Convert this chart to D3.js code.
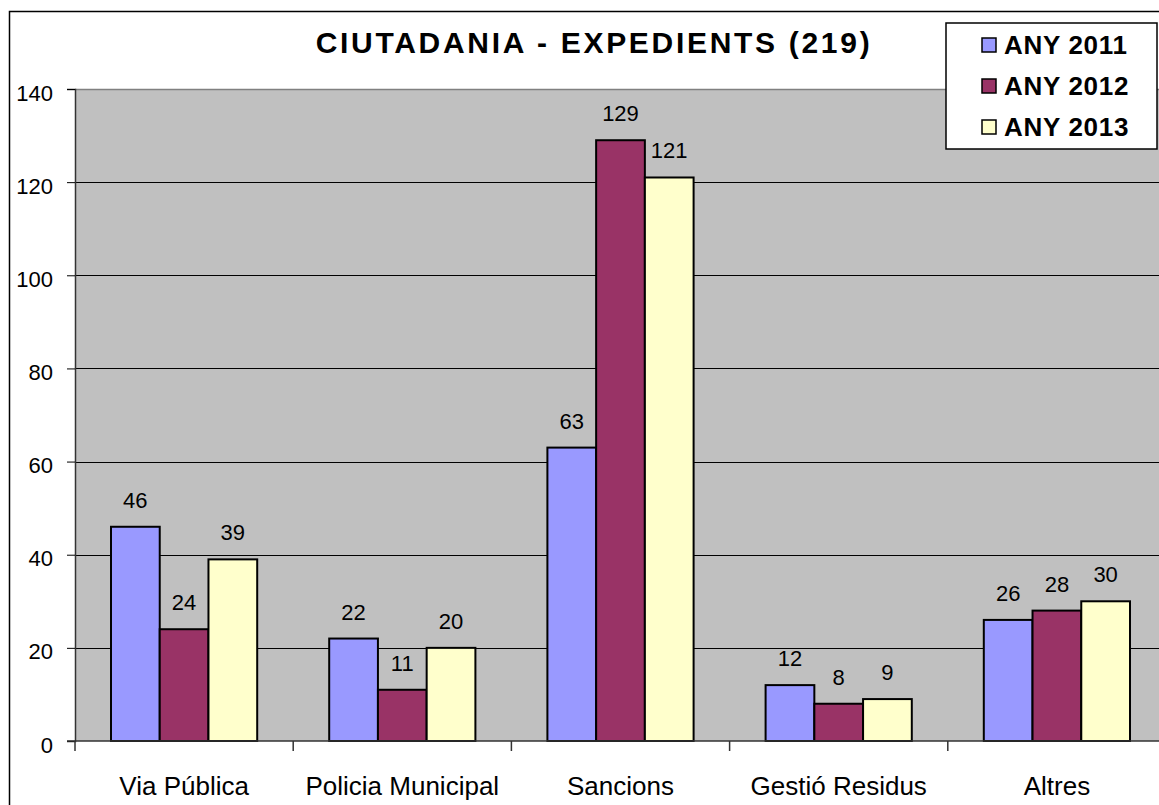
<!DOCTYPE html>
<html>
<head>
<meta charset="utf-8">
<script src="https://cdn.jsdelivr.net/npm/d3@7"></script>
<style>
  body { margin: 0; background: #fff; }
  text { font-family: "Liberation Sans", Arial, sans-serif; }
</style>
</head>
<body>
<script>
// chart data
var categories = ["Via Pública", "Policia Municipal", "Sancions", "Gestió Residus", "Altres"];
var seriesNames = ["ANY 2011", "ANY 2012", "ANY 2013"];
var any2011 = [46, 22, 63, 12, 26];
var any2012 = [24, 11, 129, 8, 28];
var any2013 = [39, 20, 121, 9, 30];
var yTicks = [0, 20, 40, 60, 80, 100, 120, 140];
var colors = ["#9999ff", "#993366", "#ffffcc"];

var series = [any2011, any2012, any2013];

var W = 1159, H = 805;
var margin = { top: 89, right: -7, bottom: 64, left: 75 },
    width = W - margin.left - margin.right,
    height = H - margin.top - margin.bottom;

var svg = d3.select("body").append("svg")
    .attr("width", W)
    .attr("height", H);

// outer frame
svg.append("rect")
    .attr("x", 9.5).attr("y", 11.5)
    .attr("width", W).attr("height", H)
    .attr("fill", "#fff").attr("stroke", "#000").attr("stroke-width", 1.5);

var g = svg.append("g")
    .attr("transform", "translate(" + margin.left + "," + margin.top + ")");

var x = d3.scaleBand().domain(categories).range([0, width]).paddingInner(0).paddingOuter(0);
var x1 = d3.scaleBand().domain(d3.range(3)).range([36, x.bandwidth() - 36]);
var y = d3.scaleLinear().domain([0, 140]).range([height, 0]);

g.append("rect")
    .attr("width", width).attr("height", height)
    .attr("fill", "#c0c0c0");
g.append("line")
    .attr("x1", 0).attr("x2", width).attr("y1", 0.5).attr("y2", 0.5)
    .attr("stroke", "#808080").attr("stroke-width", 1.5);

// gridlines
g.selectAll(".grid").data(yTicks.filter(function (d) { return d > 0 && d < 140; }))
    .enter().append("line")
    .attr("x1", 0).attr("x2", width)
    .attr("y1", function (d) { return Math.round(y(d)) + 0.5; })
    .attr("y2", function (d) { return Math.round(y(d)) + 0.5; })
    .attr("stroke", "#000").attr("stroke-width", 1);

// y axis
var axisY = d3.axisLeft(y).tickValues(yTicks).tickSize(8).tickPadding(14);
var yAxis = g.append("g").call(axisY);
yAxis.attr("font-family", null);
yAxis.select(".domain").attr("stroke", "#333").attr("stroke-width", 1.5);
yAxis.selectAll("text").attr("font-size", 22).attr("fill", "#000")
    .attr("dy", "0.5em");

// bars
var groups = g.selectAll(".cat").data(categories).enter().append("g")
    .attr("transform", function (d) { return "translate(" + x(d) + ",0)"; });

series.forEach(function (vals, s) {
    groups.append("rect")
        .attr("x", x1(s))
        .attr("y", function (d, i) { return y(vals[i]); })
        .attr("width", x1.bandwidth())
        .attr("height", function (d, i) { return y(0) - y(vals[i]); })
        .attr("fill", colors[s])
        .attr("stroke", "#000").attr("stroke-width", 2);
    groups.append("text")
        .attr("x", x1(s) + x1.bandwidth() / 2)
        .attr("y", function (d, i) { return y(vals[i]) - 19; })
        .attr("text-anchor", "middle")
        .attr("font-size", 22)
        .text(function (d, i) { return vals[i]; });
});

// x axis
var axisX = d3.axisBottom(x).tickSize(0).tickPadding(36);
var xAxis = g.append("g").attr("transform", "translate(0," + height + ")").call(axisX);
xAxis.attr("font-family", null);
xAxis.select(".domain").remove();
g.append("line")
    .attr("x1", -8).attr("x2", width).attr("y1", height).attr("y2", height)
    .attr("stroke", "#333").attr("stroke-width", 1.5);
xAxis.selectAll("text").attr("font-size", 26).attr("fill", "#000");
g.selectAll(".xtick").data(d3.range(categories.length + 1)).enter().append("line")
    .attr("x1", function (i) { return i * x.bandwidth(); })
    .attr("x2", function (i) { return i * x.bandwidth(); })
    .attr("y1", height).attr("y2", height + 10)
    .attr("stroke", "#333").attr("stroke-width", 1.5);

// title
svg.append("text")
    .attr("x", 594).attr("y", 53)
    .attr("text-anchor", "middle")
    .attr("font-size", 30).attr("font-weight", "bold")
    .attr("letter-spacing", 2.7)
    .text("CIUTADANIA - EXPEDIENTS (219)");

// legend
var legend = svg.append("g").attr("transform", "translate(946,23)");
legend.append("rect")
    .attr("width", 211).attr("height", 126)
    .attr("fill", "#fff").attr("stroke", "#000").attr("stroke-width", 1.5);
seriesNames.forEach(function (name, i) {
    var row = legend.append("g").attr("transform", "translate(0," + (31 + i * 41) + ")");
    row.append("rect")
        .attr("x", 36).attr("y", -16).attr("width", 14).attr("height", 14)
        .attr("fill", colors[i]).attr("stroke", "#000").attr("stroke-width", 1.5);
    row.append("text")
        .attr("x", 58).attr("y", 0)
        .attr("font-size", 26).attr("font-weight", "bold")
        .attr("letter-spacing", 0.7)
        .text(name);
});
</script>
</body>
</html>
